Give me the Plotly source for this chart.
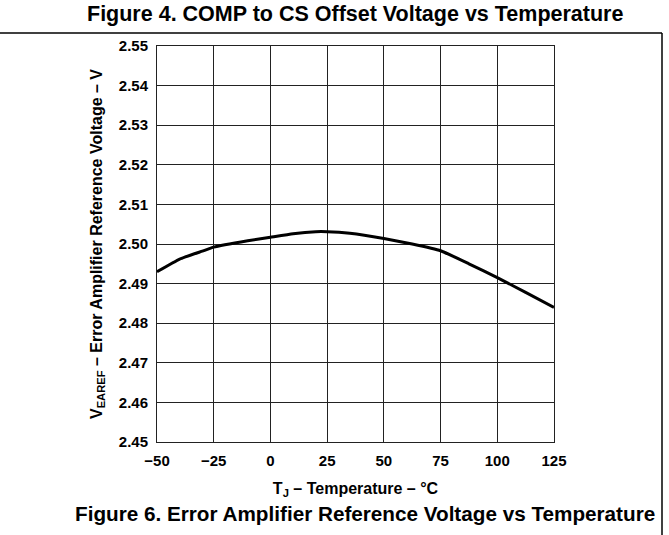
import plotly.graph_objects as go

# Data
temperature_c = [-50, -40, -30, -25, -10, 0, 10, 20, 25, 35, 50, 62.5, 75, 87.5, 100, 112.5, 125]
vearef_v = [2.4930, 2.4962, 2.4982, 2.4992, 2.5008, 2.5017, 2.5026, 2.5031, 2.5031, 2.5027,
            2.5014, 2.5000, 2.4983, 2.4950, 2.4915, 2.4878, 2.4840]

x_ticks = [-50, -25, 0, 25, 50, 75, 100, 125]
y_ticks = [2.45, 2.46, 2.47, 2.48, 2.49, 2.50, 2.51, 2.52, 2.53, 2.54, 2.55]
y_tick_text = ["%.2f" % v for v in y_ticks]

top_title = "Figure 4. COMP to CS Offset Voltage vs Temperature"
caption = "Figure 6. Error Amplifier Reference Voltage vs Temperature"
x_title = "T<sub>J</sub> – Temperature – °C"
y_title = "V<sub>EAREF</sub> – Error Amplifier Reference Voltage – V"

FONT = "Liberation Sans, Arial, Helvetica, sans-serif"

fig = go.Figure()
fig.add_trace(go.Scatter(
    x=temperature_c, y=vearef_v, mode="lines",
    line=dict(color="black", width=3, shape="spline", smoothing=0.4),
    showlegend=False, hoverinfo="skip",
))

W, H = 669, 535
ml, mt = 157, 46
pw, ph = 397, 396
mr, mb = W - ml - pw, H - mt - ph


def px(xp):
    return (xp - ml) / pw


def py(yp):
    return (mt + ph - yp) / ph


fig.update_layout(
    width=W, height=H, autosize=False,
    margin=dict(l=ml, r=mr, t=mt, b=mb, pad=0),
    paper_bgcolor="white", plot_bgcolor="white",
    font=dict(family=FONT, color="black", size=15, weight="bold"),
    xaxis=dict(
        range=[-50, 125], tickvals=x_ticks, showgrid=True, gridcolor="#222", gridwidth=1,
        zeroline=False, showline=True, linecolor="#222", linewidth=1, mirror=True,
        ticks="", tickfont=dict(size=15, family=FONT, weight="bold"), ticklabelstandoff=5,
        title=dict(text=x_title, font=dict(size=16, family=FONT, weight="bold"), standoff=14),
        fixedrange=True,
    ),
    yaxis=dict(
        range=[2.45, 2.55], tickvals=y_ticks, ticktext=y_tick_text, showgrid=True,
        gridcolor="#222", gridwidth=1, zeroline=False, showline=True, linecolor="#222",
        linewidth=1, mirror=True, ticks="", ticklabelstandoff=5,
        tickfont=dict(size=15, family=FONT, weight="bold"),
        title=dict(text=y_title, font=dict(size=16, family=FONT, weight="bold"), standoff=12),
        fixedrange=True,
    ),
    shapes=[
        dict(type="line", xref="paper", yref="paper", x0=px(-5), x1=px(662), y0=py(33), y1=py(33),
             line=dict(color="black", width=1.5)),
        dict(type="line", xref="paper", yref="paper", x0=px(662), x1=px(662), y0=py(33), y1=py(540),
             line=dict(color="black", width=1.5)),
    ],
    annotations=[
        dict(text=top_title, xref="paper", yref="paper", x=px(355), y=py(14), xanchor="center",
             yanchor="middle", showarrow=False, font=dict(size=21.5, family=FONT, weight="bold")),
        dict(text=caption, xref="paper", yref="paper", x=px(365), y=py(513), xanchor="center",
             yanchor="middle", showarrow=False, font=dict(size=20.7, family=FONT, weight="bold")),
    ],
)

fig.write_html("out.html", config={"displayModeBar": False},
               post_script="document.body.style.margin='0px';")
